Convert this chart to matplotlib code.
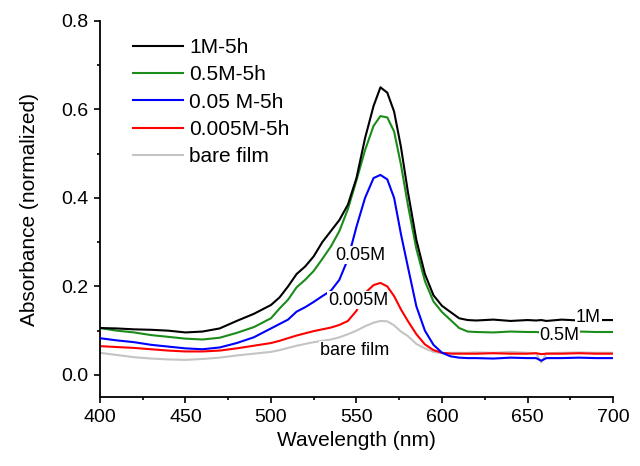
import matplotlib
matplotlib.use("Agg")
import matplotlib.pyplot as plt
from matplotlib.ticker import MultipleLocator, FormatStrFormatter

plt.rcParams['font.family'] = ['Liberation Sans', 'DejaVu Sans']

wl = [400, 410, 420, 430, 440, 450, 460, 470, 480, 490, 500, 505, 510, 515, 520,
      525, 530, 535, 540, 545, 550, 555, 560, 564, 568, 572, 576, 580, 585, 590,
      595, 600, 605, 610, 615, 620, 630, 640, 650, 655, 658, 661, 670, 680, 690, 700]

black = [.106, .105, .103, .102, .100, .096, .098, .105, .122, .138, .158, .175, .200, .228, .245,
         .268, .300, .325, .350, .385, .445, .535, .608, .650, .638, .595, .515, .415, .305, .228,
         .180, .156, .142, .128, .124, .123, .125, .122, .124, .123, .124, .122, .125, .123, .124, .124]
green = [.106, .100, .096, .090, .086, .082, .080, .084, .095, .108, .128, .150, .170, .198, .215,
         .235, .262, .290, .325, .375, .440, .508, .563, .585, .582, .550, .475, .385, .285, .212,
         .166, .142, .124, .106, .098, .097, .096, .098, .097, .097, .096, .098, .097, .098, .097, .097]
blue = [.083, .078, .074, .068, .064, .060, .058, .062, .072, .085, .105, .115, .125, .143, .153,
        .165, .178, .190, .215, .262, .335, .400, .445, .452, .442, .400, .318, .245, .155, .100,
        .068, .050, .042, .039, .038, .038, .037, .039, .038, .038, .032, .038, .038, .039, .038, .038]
red = [.065, .063, .061, .058, .055, .053, .053, .055, .060, .066, .072, .077, .083, .089, .094,
       .099, .103, .107, .113, .122, .145, .185, .203, .208, .200, .178, .148, .122, .092, .069,
       .056, .050, .048, .048, .048, .048, .049, .048, .048, .049, .047, .048, .048, .049, .048, .048]
bare = [.050, .045, .040, .037, .035, .034, .036, .039, .044, .048, .052, .056, .061, .066, .070,
        .074, .077, .080, .085, .092, .100, .110, .118, .122, .121, .112, .098, .088, .070, .060,
        .052, .049, .050, .050, .050, .051, .050, .052, .050, .049, .028, .049, .050, .051, .050, .050]

series = [
    ("1M-5h", black, "#000000"),
    ("0.5M-5h", green, "#1a8c1a"),
    ("0.05 M-5h", blue, "#0000ff"),
    ("0.005M-5h", red, "#ff0000"),
    ("bare film", bare, "#c4c4c4"),
]

annotations = [
    ("1M", 685.5, 0.130),
    ("0.5M", 668.5, 0.088),
    ("0.05M", 552.0, 0.271),
    ("0.005M", 551.0, 0.169),
    ("bare film", 549.0, 0.056),
]

fig = plt.figure(figsize=(6.4, 4.66), dpi=100)
ax = fig.add_axes([0.156, 0.148, 0.802, 0.807])

for i, (lab, vals, col) in enumerate(series):
    ax.plot(wl, vals, color=col, lw=1.5, label=lab, zorder=5 - i)

for txt, x, y in annotations:
    ax.text(x, y, txt, fontsize=13, ha='center', va='center', zorder=10,
            bbox=dict(facecolor='white', edgecolor='none', pad=0.5))

ax.set_xlim(400, 700)
ax.set_ylim(-0.05, 0.8)
ax.xaxis.set_major_locator(MultipleLocator(50))
ax.xaxis.set_minor_locator(MultipleLocator(25))
ax.yaxis.set_major_locator(MultipleLocator(0.2))
ax.yaxis.set_minor_locator(MultipleLocator(0.1))
ax.yaxis.set_major_formatter(FormatStrFormatter('%.1f'))

for s in ['top', 'right']:
    ax.spines[s].set_visible(False)
for s in ['left', 'bottom']:
    ax.spines[s].set_linewidth(1.3)

ax.tick_params(which='major', direction='out', length=4.5, width=1.2, labelsize=14, pad=4)
ax.tick_params(which='minor', direction='out', length=2.5, width=1.2)

ax.set_xlabel("Wavelength (nm)", fontsize=15, labelpad=4)
ax.set_ylabel("Absorbance (normalized)", fontsize=15, labelpad=16)

ax.legend(loc='upper left', bbox_to_anchor=(0.064, 0.955), frameon=False,
          fontsize=15, handlelength=2.4, handletextpad=0.3, labelspacing=0.4,
          borderpad=0, borderaxespad=0)

fig.savefig("out.png", dpi=100)
